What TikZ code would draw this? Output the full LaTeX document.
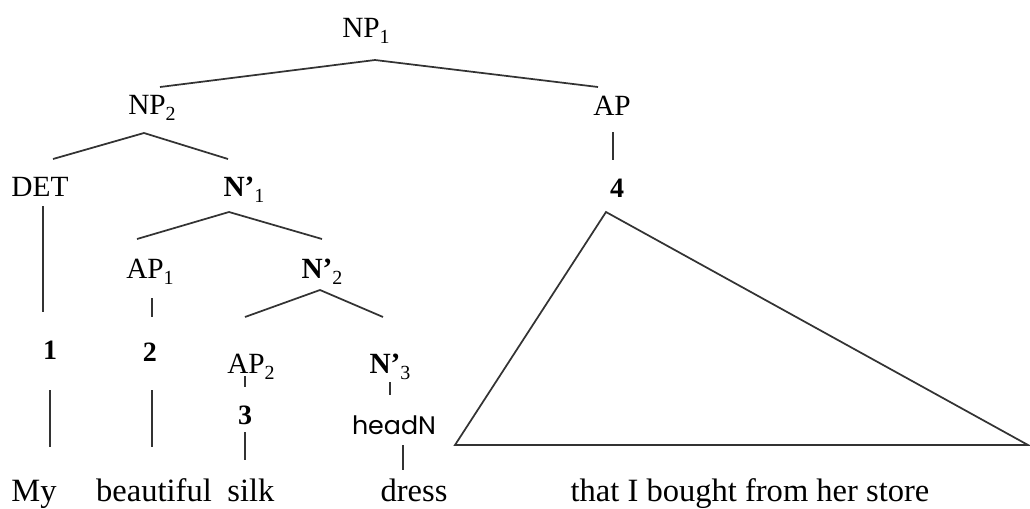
\documentclass[tikz,border=0pt]{standalone}
\usepackage{fontspec}
\setmainfont{Liberation Serif}
\newfontfamily\headfont{Poppins}
\usepackage{tikz}
\usetikzlibrary{positioning}
\newcommand{\lsub}[1]{\raisebox{-0.45ex}{\fontsize{7.5}{8}\selectfont #1}}
\tikzset{
  cat/.style={font=\fontsize{11}{13}\selectfont, inner sep=0pt},
  num/.style={font=\fontsize{10.5}{12}\selectfont\bfseries, inner sep=0pt},
  word/.style={font=\fontsize{12.2}{14}\selectfont, inner sep=0pt, anchor=base},
  branch/.style={line width=0.65pt, draw=black!80},
}

\begin{document}
\begin{tikzpicture}[x=0.375pt, y=-0.375pt]
  \useasboundingbox (0,0) rectangle (1030,508);
  % categories
  \node[cat] (np1) at (366,31) {NP\lsub{1}};
  \node[cat] (np2) at (152,108) {NP\lsub{2}};
  \node[cat] (ap) at (612,106) {AP};
  \node[cat] (det) at (40,187) {DET};
  \node[cat] (n1) at (244,190) {\textbf{N'}\lsub{1}};
  \node[cat] (ap1) at (150,272) {AP\lsub{1}};
  \node[cat] (n2) at (322,272) {\textbf{N'}\lsub{2}};
  \node[cat] (ap2) at (251,367) {AP\lsub{2}};
  \node[cat] (n3) at (390,367) {\textbf{N'}\lsub{3}};
  \node[inner sep=0pt, font=\headfont\fontsize{9.5}{11}\selectfont] (head) at (394,425) {headN};
  % numbers
  \node[num] (one) at (50,350) {1};
  \node[num] (two) at (150,352) {2};
  \node[num] (three) at (245,415) {3};
  \node[num] (four) at (617,188) {4};
  % words
  \node[word] (my) at (34,501) {My};
  \node[word] (beautiful) at (154,501) {beautiful};
  \node[word] (silk) at (251,501) {silk};
  \node[word] (dress) at (414,501) {dress};
  \node[word] (rel) at (750,501) {that I bought from her store};

  % branches
  \draw[branch] ([shift={(8,-21)}]np2.center) -- ([shift={(9,29)}]np1.center) -- ([shift={(-14,-19)}]ap.center);
  \draw[branch] ([shift={(13,-28)}]det.center) -- ([shift={(-8,25)}]np2.center) -- ([shift={(-16,-31)}]n1.center);
  \draw[branch] ([shift={(-13,-33)}]ap1.center) -- ([shift={(-15,22)}]n1.center) -- ([shift={(0,-33)}]n2.center);
  \draw[branch] ([shift={(-6,-50)}]ap2.center) -- ([shift={(-2,18)}]n2.center) -- ([shift={(-7,-50)}]n3.center);
  % unary lines
  \draw[branch] ([shift={(3,19)}]det.center) -- ([shift={(-7,-38)}]one.center);
  \draw[branch] ([shift={(2,26)}]ap1.center) -- ([shift={(2,-35)}]two.center);
  \draw[branch] ([shift={(0,40)}]one.center) -- ([shift={(16,-54)}]my.base);
  \draw[branch] ([shift={(2,38)}]two.center) -- ([shift={(-2,-54)}]beautiful.base);
  \draw[branch] ([shift={(-6,9)}]ap2.center) -- ([shift={(0,-28)}]three.center);
  \draw[branch] ([shift={(0,17)}]three.center) -- ([shift={(-6,-41)}]silk.base);
  \draw[branch] ([shift={(0,15)}]n3.center) -- ([shift={(-4,-30)}]head.center);
  \draw[branch] ([shift={(9,20)}]head.center) -- ([shift={(-11,-31)}]dress.base);
  \draw[branch] ([shift={(1,26)}]ap.center) -- ([shift={(-4,-28)}]four.center);
  % triangle over the relative clause
  \coordinate (tri-l) at (455,445);
  \coordinate (tri-r) at (1028,445);
  \draw[branch, line join=miter] ([shift={(-11,24)}]four.center) -- (tri-l) -- (tri-r) -- cycle;
\end{tikzpicture}
\end{document}
